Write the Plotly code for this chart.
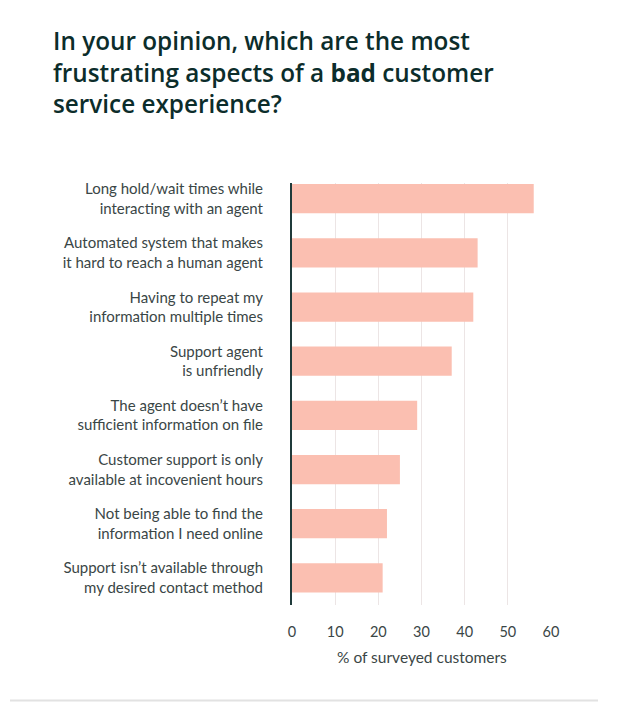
import plotly.graph_objects as go

categories = [
    "Long hold/wait times while<br>interacting with an agent",
    "Automated system that makes<br>it hard to reach a human agent",
    "Having to repeat my<br>information multiple times",
    "Support agent<br>is unfriendly",
    "The agent doesn’t have<br>sufficient information on file",
    "Customer support is only<br>available at incovenient hours",
    "Not being able to find the<br>information I need online",
    "Support isn’t available through<br>my desired contact method",
]
values = [56, 43, 42, 37, 29, 25, 22, 21]
x_ticks = [0, 10, 20, 30, 40, 50, 60]

# the page body adds an 8px offset, so figure coords = screen coords - 8
OFF = 8
W, H = 618, 717
ML, MT = 292 - OFF, 183 - OFF
PR, PB = 551 - OFF, 605 - OFF
MR, MB = W - PR, H - PB
pw = PR - ML
ph = PB - MT

fig = go.Figure(go.Bar(
    x=values, y=categories, orientation="h",
    marker=dict(color="#fbbfb1", line=dict(width=0)),
    width=0.54, hoverinfo="x+y",
))

fig.update_layout(
    width=W, height=H,
    margin=dict(l=ML, r=MR, t=MT, b=MB, autoexpand=False),
    paper_bgcolor="white", plot_bgcolor="white",
    showlegend=False,
    font=dict(family="Lato, sans-serif", color="#3a4646"),
    xaxis=dict(
        range=[0, 60], tickvals=x_ticks, showgrid=True,
        gridcolor="#ece5e5", gridwidth=1, zeroline=False,
        showline=False, ticks="", ticklabelstandoff=16,
        tickfont=dict(size=14.5, color="#3a4646"),
    ),
    yaxis=dict(
        type="category", categoryorder="array", categoryarray=categories,
        range=[7.5, -0.29], showgrid=False, zeroline=False,
        showline=True, linecolor="#1f3a3a", linewidth=2,
        ticks="", ticklabelstandoff=24,
        tickfont=dict(size=15, color="#3a4646"),
    ),
    annotations=[
        dict(
            text="In your opinion, which are the most<br>frustrating aspects of a <b>bad</b> customer<br>service experience?",
            xref="paper", yref="paper",
            x=(55 - OFF - 4 - ML) / pw, y=1 + (MT - 22 + OFF) / ph,
            xanchor="left", yanchor="top", align="left", showarrow=False,
            font=dict(family="Open Sans, sans-serif", size=24.3, color="#0c2d2b", weight=600),
        ),
        dict(
            text="% of surveyed customers",
            xref="paper", yref="paper",
            x=0.5, y=(605 - 657) / ph,
            xanchor="center", yanchor="middle", showarrow=False,
            font=dict(family="Lato, sans-serif", size=15.5, color="#3a4646"),
        ),
    ],
    shapes=[
        dict(
            type="line", xref="paper", yref="paper",
            x0=(10 - OFF - ML) / pw, x1=(598 - OFF - ML) / pw,
            y0=(605 - 700.5) / ph, y1=(605 - 700.5) / ph,
            line=dict(color="#e2e2e2", width=2),
        ),
    ],
)

fig.write_html("out.html")
